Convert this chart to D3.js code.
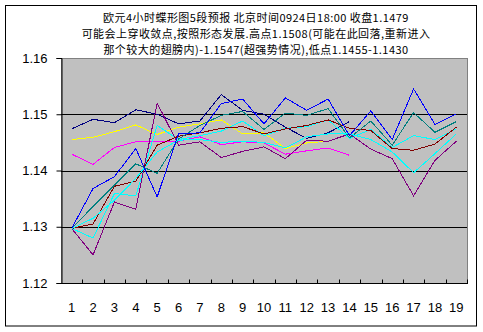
<!DOCTYPE html>
<html><head><meta charset="utf-8">
<script src="https://cdn.jsdelivr.net/npm/d3@7"></script>
<style>
body{margin:0;background:#fff;}
svg{display:block;}
text{font-family:"Liberation Sans",Arial,sans-serif;}
</style></head>
<body><svg id="c" width="483" height="332"></svg>
<script>
const titleLines = [
  "欧元4小时蝶形图5段预报 北京时间0924日18:00 收盘1.1479",
  "可能会上穿收敛点,按照形态发展.高点1.1508(可能在此回落,重新进入",
  "那个较大的翅膀内)-1.1547(超强势情况),低点1.1455-1.1430"
];
const categories = d3.range(1, 20).map(String);
const yTicks = [1.12, 1.13, 1.14, 1.15, 1.16];
const gridValues = [1.13, 1.14, 1.15];

const navy    = [1.1474,1.1491,1.1485,1.1508,1.1500,1.1483,1.1488,1.1535,1.1507,1.1500,1.1477,1.1457,1.1467,1.1487];
const magenta = [1.1429,1.1411,1.1441,1.1451,1.1451,1.1452,1.1460,1.1446,1.1451,1.1449,1.1429,1.1435,1.1440,1.1427];
const yellow  = [1.1455,1.1459,1.1469,1.1481,1.1464,1.1477,1.1483,1.1490,1.1465,1.1467,1.1439,1.1449,1.1452,1.1465];
const cyan1   = [1.1297,1.1280,1.1359,1.1355,1.1480,1.1455,1.1462,1.1470,1.1488,1.1462,1.1475,1.1478,1.1490,1.1457,1.1473,1.1441,1.1462,1.1455,1.1474];
const purple  = [1.1297,1.1250,1.1344,1.1331,1.1520,1.1445,1.1451,1.1423,1.1434,1.1442,1.1421,1.1454,1.1452,1.1465,1.1438,1.1421,1.1355,1.1418,1.1452];
const maroon  = [1.1297,1.1305,1.1372,1.1381,1.1445,1.1461,1.1467,1.1475,1.1478,1.1465,1.1474,1.1480,1.1490,1.1475,1.1471,1.1439,1.1436,1.1447,1.1477];
const teal    = [1.1297,1.1336,1.1374,1.1412,1.1395,1.1456,1.1480,1.1498,1.1505,1.1473,1.1502,1.1498,1.1510,1.1458,1.1488,1.1445,1.1503,1.1468,1.1487];
const blue    = [1.1297,1.1368,1.1389,1.1439,1.1353,1.1465,1.1467,1.1519,1.1527,1.1483,1.1529,1.1507,1.1527,1.1462,1.1506,1.1455,1.1545,1.1482,1.1501];
const cyan2   = [1.1297,1.1315,1.1347,1.1386,1.1433,1.1454,1.1455,1.1450,1.1452,1.1450,1.1440,1.1460,1.1465,1.1465,1.1455,1.1433,1.1396,1.1430,1.1465];

const seriesList = [
  {values: navy, color: "#000080"},
  {values: magenta, color: "#FF00FF"},
  {values: yellow, color: "#FFFF00"},
  {values: cyan1, color: "#00FFFF"},
  {values: purple, color: "#800080"},
  {values: maroon, color: "#800000"},
  {values: teal, color: "#008080"},
  {values: cyan2, color: "#00FFFF"},
  {values: blue, color: "#0000FF"}
];

const svg = d3.select("#c");
const P = {left: 61, right: 467, top: 58, bottom: 283};

// outer border
svg.append("rect").attr("x",5.5).attr("y",5.5).attr("width",471).attr("height",320.5)
  .attr("fill","#fff").attr("stroke","#000").attr("stroke-width",1);

// title
svg.append("g").selectAll("text").data(titleLines).join("text")
  .attr("x", 256).attr("y", (d,i)=>22 + i*16)
  .attr("text-anchor","middle")
  .style("font-family",'"Noto Sans CJK SC",sans-serif')
  .style("font-size","11px").style("letter-spacing","0.45px").attr("fill","#000")
  .text(d=>d);

const x = d3.scaleBand().domain(categories).range([P.left, P.right]).padding(0);
const y = d3.scaleLinear().domain([1.12, 1.16]).range([P.bottom, P.top]);
const cx = i => x(categories[i]) + x.bandwidth()/2;

// plot area
svg.append("rect").attr("x",P.left).attr("y",P.top)
  .attr("width",P.right-P.left).attr("height",P.bottom-P.top)
  .attr("fill","#C0C0C0").attr("stroke","#808080").attr("shape-rendering","crispEdges");

// gridlines
svg.append("g").selectAll("line").data(gridValues).join("line")
  .attr("x1",P.left).attr("x2",P.right)
  .attr("y1",d=>Math.round(y(d))+0.5).attr("y2",d=>Math.round(y(d))+0.5)
  .attr("stroke","#000").attr("stroke-width",1);

// y axis
const yAxis = svg.append("g").attr("transform",`translate(${P.left+0.5},0)`)
  .call(d3.axisLeft(y).tickValues(yTicks).tickFormat(d3.format(".2f")).tickSize(5).tickPadding(9));
yAxis.select(".domain").attr("stroke","#000");
yAxis.selectAll(".tick line").attr("stroke","#000");
yAxis.selectAll("text").style("font-family",'"Liberation Sans",Arial,sans-serif').style("font-size","13px").attr("fill","#000");

// x axis (ticks at category boundaries, inside)
const xb = svg.append("g").attr("transform",`translate(0,${P.bottom+0.5})`);
xb.append("line").attr("x1",P.left).attr("x2",P.right+1).attr("stroke","#000");
xb.selectAll("line.t").data(categories.slice(1).concat(["end"])).join("line").attr("class","t")
  .attr("x1",(d,i)=>Math.round(P.left + (i+1)*x.bandwidth())+0.5)
  .attr("x2",(d,i)=>Math.round(P.left + (i+1)*x.bandwidth())+0.5)
  .attr("y1",0).attr("y2",-4).attr("stroke","#000");
xb.selectAll("text").data(categories).join("text")
  .attr("x",(d,i)=>cx(i)).attr("y",28)
  .attr("text-anchor","middle")
  .style("font-family",'"Liberation Sans",Arial,sans-serif').style("font-size","13px")
  .text(d=>d);

// series
const line = d3.line().x((d,i)=>cx(i)).y(d=>y(d));
svg.append("g").selectAll("path").data(seriesList).join("path")
  .attr("d", s=>line(s.values))
  .attr("fill","none").attr("stroke",s=>s.color).attr("stroke-width",1)
  .attr("shape-rendering","crispEdges");
</script></body></html>
